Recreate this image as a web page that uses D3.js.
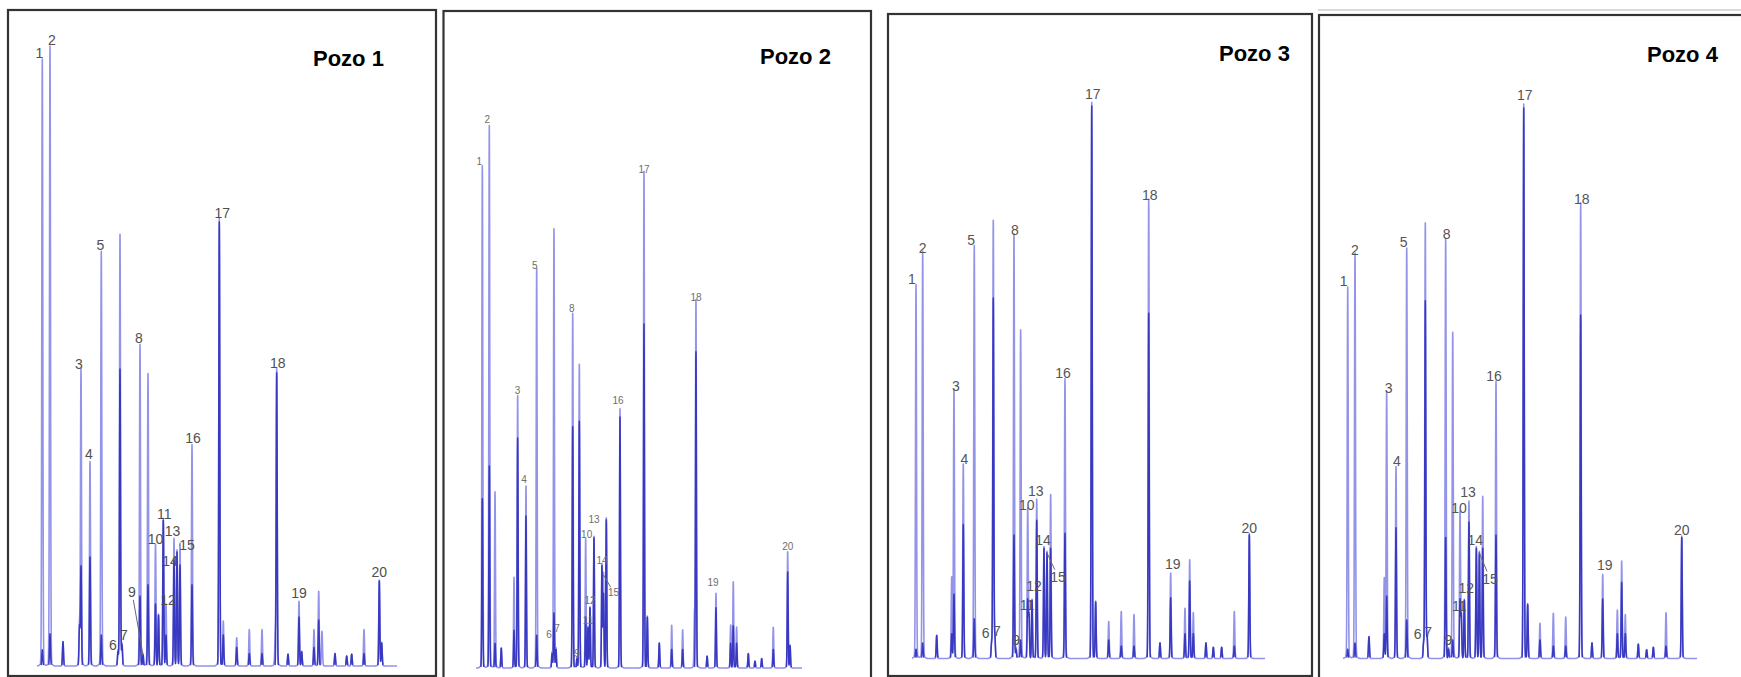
<!DOCTYPE html>
<html lang="es">
<head>
<meta charset="utf-8">
<title>Cromatogramas – Pozos 1 a 4</title>
<script src="https://cdn.jsdelivr.net/npm/d3@7"></script>
<style>
  html, body { margin: 0; padding: 0; background: #fff; }
  svg { display: block; }
  text { font-family: "Liberation Sans", Arial, Helvetica, sans-serif; }
</style>
</head>
<body>
<svg id="grafico" width="1741" height="677"></svg>
<script>
// Retention time (min), peak height (% of full scale) and height of the darker
// overlaid trace for every peak of each well; compound number (or null) per peak.
const tiempoPozo1 = [0.53, 1.30, 2.60, 4.25, 4.40, 5.30, 6.43, 8.10, 8.30, 8.50,
  10.30, 10.60, 11.10, 11.85, 12.15, 12.63, 12.90, 13.70, 14.00, 14.30,
  15.50, 18.23, 18.63, 19.97, 21.23, 22.50, 23.83, 23.97, 25.10, 26.20,
  26.47, 27.70, 28.17, 28.50, 29.80, 30.97, 31.47, 32.70, 34.23, 34.47];
const alturaPozo1 = [97.3, 99.4, 3.9, 6.5, 47.3, 32.6, 66.3, 2.3, 69.0, 3.4,
  51.3, 1.8, 46.6, 19.4, 8.2, 23.5, 9.8, 20.3, 18.4, 19.5,
  35.3, 71.6, 7.1, 4.5, 5.8, 5.8, 5.0, 47.3, 1.9, 10.3,
  2.3, 5.8, 11.9, 5.5, 2.0, 1.6, 1.9, 5.8, 13.7, 3.7];
const nucleoPozo1 = [2.6, 5.2, 3.9, 6.5, 16.1, 17.6, 5.0, 2.3, 47.9, 3.4,
  11.3, 1.8, 13.1, 10.0, 8.2, 23.5, 5.0, 17.1, 18.4, 16.3,
  13.1, 71.6, 5.0, 3.0, 2.0, 2.0, 0, 47.3, 1.9, 7.9,
  2.3, 3.0, 7.4, 0, 2.0, 1.6, 1.9, 2.0, 13.7, 3.7];
const compuestoPozo1 = [1, 2, null, null, 3, 4, 5, 6, null, 7,
  8, 9, null, 10, null, 11, 12, 13, 14, 15,
  16, 17, null, null, null, null, null, 18, null, 19,
  null, null, null, null, null, null, null, null, 20, null];

const tiempoPozo2 = [0.70, 1.47, 2.10, 2.79, 4.20, 4.60, 5.52, 6.70, 8.40, 8.61,
  8.83, 10.68, 11.15, 11.41, 12.11, 12.37, 12.59, 13.03, 13.91, 14.08,
  14.39, 15.90, 18.55, 18.92, 20.24, 21.61, 22.82, 24.13, 24.29, 25.52,
  26.50, 28.12, 28.41, 28.78, 30.07, 30.81, 31.55, 32.83, 34.42, 34.68];
const alturaPozo2 = [80.4, 86.9, 28.1, 3.2, 14.4, 43.4, 29.0, 63.9, 2.3, 70.2,
  3.0, 56.6, 1.5, 48.4, 20.6, 6.5, 9.7, 21.0, 16.5, 15.0,
  23.9, 41.3, 79.5, 8.2, 4.0, 6.8, 6.1, 8.5, 58.7, 1.9,
  11.9, 6.8, 13.7, 6.5, 2.3, 1.1, 1.5, 6.5, 18.5, 3.6];
const nucleoPozo2 = [27.3, 32.6, 4.0, 3.2, 6.1, 37.1, 24.5, 5.3, 2.3, 8.9,
  3.0, 38.9, 1.5, 39.8, 8.2, 6.5, 9.7, 21.0, 16.5, 12.0,
  23.9, 40.5, 55.5, 8.2, 4.0, 3.0, 3.0, 0, 51.0, 1.9,
  9.7, 4.0, 6.8, 4.0, 2.3, 1.1, 1.5, 3.0, 15.5, 3.6];
const compuestoPozo2 = [1, 2, null, null, null, 3, 4, 5, 6, null,
  7, 8, 9, null, 10, 11, 12, 13, 14, 15,
  null, 16, 17, null, null, null, null, null, 18, null,
  19, null, null, null, null, null, null, null, 20, null];

const tiempoPozo3 = [0.41, 1.09, 2.52, 4.05, 4.28, 5.23, 6.35, 8.12, 8.29, 8.45,
  10.40, 10.61, 11.08, 11.80, 11.93, 12.24, 12.72, 13.46, 13.77, 14.14,
  15.60, 18.33, 18.73, 20.06, 21.34, 22.64, 24.14, 25.29, 26.38, 27.84,
  28.32, 28.69, 29.98, 30.73, 31.58, 32.87, 34.40];
const alturaPozo3 = [59.7, 65.1, 3.7, 12.8, 42.8, 31.0, 66.0, 2.5, 70.0, 3.5,
  67.9, 1.5, 52.4, 23.7, 7.0, 9.4, 25.4, 17.8, 17.0, 26.1,
  44.6, 89.1, 9.1, 5.9, 7.5, 7.0, 73.5, 2.5, 13.6, 8.0,
  15.7, 7.3, 2.5, 1.8, 1.8, 7.5, 19.9];
const nucleoPozo3 = [1.5, 2.5, 3.7, 4.0, 10.4, 21.6, 6.4, 2.5, 58.1, 3.5,
  19.9, 1.5, 3.0, 9.4, 7.0, 9.4, 22.3, 17.8, 17.0, 17.8,
  20.2, 89.1, 9.1, 3.0, 2.0, 2.0, 55.7, 2.5, 9.8, 4.0,
  12.5, 4.0, 2.5, 1.8, 1.8, 2.0, 19.9];
const compuestoPozo3 = [1, 2, null, null, 3, 4, 5, 6, null, 7,
  8, 9, null, 10, 11, 12, 13, 14, 15, null,
  16, 17, null, null, null, null, 18, null, 19, null,
  null, null, null, null, null, null, 20];

const tiempoPozo4 = [0.48, 1.22, 2.64, 4.20, 4.44, 5.39, 6.48, 8.20, 8.37, 8.55,
  10.44, 10.73, 11.16, 11.90, 12.03, 12.34, 12.81, 13.56, 13.87, 14.21,
  15.56, 18.38, 18.78, 20.03, 21.39, 22.65, 24.17, 25.32, 26.41, 27.90,
  28.34, 28.71, 30.03, 30.88, 31.56, 32.85, 34.45];
const alturaPozo4 = [59.3, 64.8, 3.5, 12.7, 42.5, 30.6, 65.6, 2.5, 69.6, 3.5,
  67.2, 1.5, 52.0, 23.2, 7.0, 9.4, 25.1, 17.8, 17.0, 25.8,
  44.2, 88.8, 8.7, 5.6, 7.2, 6.6, 72.9, 2.5, 13.4, 7.7,
  15.5, 7.0, 2.3, 1.4, 1.8, 7.3, 19.5];
const nucleoPozo4 = [1.5, 2.5, 3.5, 4.0, 10.1, 21.1, 6.2, 2.5, 57.7, 3.5,
  19.5, 1.5, 3.0, 9.4, 7.0, 9.4, 22.0, 17.8, 17.0, 17.8,
  19.9, 88.8, 8.7, 3.0, 2.0, 2.0, 55.4, 2.5, 9.6, 4.0,
  12.3, 4.0, 2.3, 1.4, 1.8, 2.0, 19.5];
const compuestoPozo4 = compuestoPozo3.slice();

const nombresPozos = ["Pozo 1", "Pozo 2", "Pozo 3", "Pozo 4"];
const rangoTiempo = [0, 36];
const rangoSenal = [0, 100];

// ---- layout (pixels) ----
const disposicion = [
  { marco: [8, 10, 428, 666],    traza: [37, 397],    base: 666,   titulo: [313, 66],  fuente: 14, color: "#505050" },
  { marco: [443.5, 11, 427.5, 690], traza: [476, 802], base: 668,   titulo: [760, 64],  fuente: 10, color: "#6e6e6e" },
  { marco: [888, 14, 424, 662],  traza: [912, 1265],  base: 658.5, titulo: [1219, 61], fuente: 14, color: "#555" },
  { marco: [1319, 15, 440, 690], traza: [1343, 1697], base: 658.5, titulo: [1647, 62], fuente: 14, color: "#555" }
];
const altoEscala = 620;

// label nudges [dx, dy, leader?] by compound number
const ajustes = [
  {1:[-3,0],2:[2,0],3:[-2,1],4:[-1,0],5:[-1,0],6:[-5,3],7:[2,0],8:[-1,0],9:[-11,-53,true],
   10:[0,3],11:[1,3],12:[2,4],13:[-1.5,0],14:[-7,19],15:[7,9,true],16:[1,0],17:[3,0],18:[1,0]},
  {1:[-3,-1],2:[-2,-3],3:[0,-2],4:[-2,-2],5:[-2,1],6:[-3,-12],7:[1,-14],8:[-1,-2],9:[0,2],
   10:[1,1],13:[0,-11],14:[0,2],15:[10,24,true],16:[-2,-5],17:[0,1],19:[-3,-5]},
  {1:[-4,0],2:[0,3],3:[2,2],4:[1,2],5:[-3,0],6:[-6,-1],7:[2,4],8:[1,2],10:[-1,3],11:[-2,-1],
   12:[2,-5],13:[-1,-1],14:[-1,1],15:[11,33,true],16:[-2,1],17:[1,-3],18:[1,2],19:[2,-1],20:[0,2]},
  {1:[-4,0],2:[0,3],3:[2,2],4:[1,2],5:[-3,0],6:[-6,0],7:[1,5],8:[1,2],10:[-1,3],11:[-2,0],
   12:[2,-3],13:[-1,-1],14:[-1,1],15:[10.6,35,true],16:[-2,1],17:[1,-3],18:[1,2],19:[2,-1],20:[0,2]}
];

const pozos = [
  { tiempo: tiempoPozo1, altura: alturaPozo1, nucleo: nucleoPozo1, compuesto: compuestoPozo1 },
  { tiempo: tiempoPozo2, altura: alturaPozo2, nucleo: nucleoPozo2, compuesto: compuestoPozo2 },
  { tiempo: tiempoPozo3, altura: alturaPozo3, nucleo: nucleoPozo3, compuesto: compuestoPozo3 },
  { tiempo: tiempoPozo4, altura: alturaPozo4, nucleo: nucleoPozo4, compuesto: compuestoPozo4 }
].map((p, i) => Object.assign(p, { nombre: nombresPozos[i] }));

// Detector signal built as a sum of narrow Gaussian peaks
const sigma = 0.05;
function senal(tiempos, alturas, conPie) {
  const pts = [];
  const paso = 0.01;
  const n = Math.round((rangoTiempo[1] - rangoTiempo[0]) / paso);
  for (let i = 0; i <= n; i++) {
    const t = rangoTiempo[0] + i * paso;
    let v = 0;
    for (let k = 0; k < tiempos.length; k++) {
      const d = t - tiempos[k];
      if (Math.abs(d) > 1.2) continue;
      v += alturas[k] * Math.exp(-d * d / (2 * sigma * sigma));
      if (conPie) v += Math.min(0.012 * alturas[k], 0.6) * Math.exp(-d * d / (2 * 0.18 * 0.18));
    }
    pts.push([t, v]);
  }
  return pts;
}

const svg = d3.select("#grafico");
svg.append("rect").attr("width", 1741).attr("height", 677).attr("fill", "#fff");

// thin rule above the last frame
svg.append("line").attr("x1", 1318).attr("x2", 1741).attr("y1", 10).attr("y2", 10)
  .attr("stroke", "#b5b5b5").attr("stroke-width", 1);

pozos.forEach((pozo, i) => {
  const L = disposicion[i];
  const g = svg.append("g").attr("class", "pozo");

  g.append("rect")
    .attr("x", L.marco[0]).attr("y", L.marco[1])
    .attr("width", L.marco[2]).attr("height", L.marco[3])
    .attr("fill", "#fff").attr("stroke", "#333").attr("stroke-width", 2.2);

  const x = d3.scaleLinear().domain(rangoTiempo).range(L.traza);
  const y = d3.scaleLinear().domain(rangoSenal).range([L.base, L.base - altoEscala]);

  const linea = d3.line().x(d => x(d[0])).y(d => y(d[1]));
  const lineaOscura = d3.line().defined(d => d[1] > 0.12).x(d => x(d[0])).y(d => y(d[1]));

  g.append("path")
    .attr("d", linea(senal(pozo.tiempo, pozo.altura, true)))
    .attr("fill", "none").attr("stroke", "#9393ea").attr("stroke-width", 1.6)
    .attr("stroke-linejoin", "round");

  g.append("path")
    .attr("d", lineaOscura(senal(pozo.tiempo, pozo.nucleo, false)))
    .attr("fill", "none").attr("stroke", "#3838c0").attr("stroke-width", 1.5)
    .attr("stroke-linejoin", "round");

  // compound numbers
  const capa = L.fuente * 0.716;
  const hueco = L.fuente >= 12 ? 4.5 : 3.4;
  const etiquetas = pozo.compuesto
    .map((c, k) => ({ c, t: pozo.tiempo[k], h: pozo.altura[k] }))
    .filter(d => d.c !== null);

  etiquetas.forEach(d => {
    const aj = ajustes[i][d.c] || [0, 0];
    const px = x(d.t), py = y(d.h);
    const lx = px + aj[0];
    const ly = py - hueco + aj[1];          // text baseline
    if (aj[2]) {
      const cx = lx, cy = ly - capa / 2;
      const dx = px - cx, dy = py - cy, len = Math.hypot(dx, dy);
      const off = L.fuente * 0.55;
      g.append("line")
        .attr("x1", cx + dx / len * off).attr("y1", cy + dy / len * off)
        .attr("x2", px).attr("y2", py)
        .attr("stroke", "#6a6a6a").attr("stroke-width", 1);
    }
    g.append("text")
      .attr("x", lx).attr("y", ly)
      .attr("text-anchor", "middle")
      .attr("font-size", L.fuente)
      .attr("fill", L.color)
      .text(d.c);
  });

  g.append("text")
    .attr("x", L.titulo[0]).attr("y", L.titulo[1])
    .attr("font-size", 22).attr("font-weight", "bold").attr("fill", "#000")
    .text(pozo.nombre);
});
</script>
</body>
</html>
